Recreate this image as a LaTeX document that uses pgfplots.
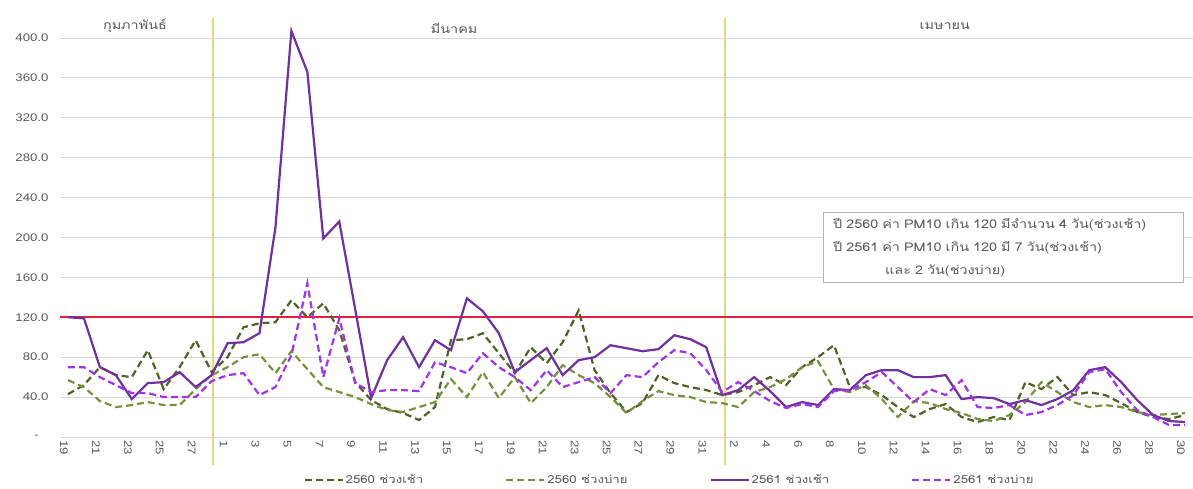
\documentclass[border=0pt]{standalone}
\usepackage{fontspec}
\setmainfont[FakeStretch=1.2]{Liberation Sans}
\newfontfamily\thaifont[Script=Thai, FakeStretch=1.2]{Loma}
\usepackage{pgfplots}
\usepackage{pgfplotstable}
\pgfplotsset{compat=1.18}
\definecolor{dkgreen}{RGB}{79,98,40}
\definecolor{ltgreen}{RGB}{118,146,60}
\definecolor{purp}{RGB}{112,48,160}
\definecolor{viol}{RGB}{160,50,240}
\definecolor{redline}{RGB}{232,30,60}
\definecolor{vline}{RGB}{226,218,115}
\definecolor{gridc}{RGB}{217,217,217}
\definecolor{txt}{RGB}{89,89,89}

\pgfplotstableread{
i A B C D
0 120 70 43 57
1 119 70 52 50
2 70 60 70 36
3 62 52 62 30
4 38 44 60 32
5 54 44 87 35
6 55 40 48 32
7 65 40 70 32
8 50 40 97 48
9 62 56 65 62
10 94 62 80 70
11 95 64 110 80
12 104 42 114 83
13 210 50 115 64
14 407 82 137 86
15 366 154 120 68
16 199 60 134 50
17 216 119 107 45
18 128 54 55 40
19 39 45 37 33
20 77 47 28 27
21 100 47 24 25
22 70 46 17 30
23 97 75 30 35
24 87 70 97 58
25 139 64 98 40
26 126 84 104 65
27 104 70 84 39
28 65 60 64 60
29 77 47 90 34
30 89 67 74 50
31 62 50 95 72
32 77 55 127 62
33 80 60 67 54
34 92 44 44 40
35 89 62 25 24
36 86 60 34 36
37 88 75 62 46
38 102 87 54 42
39 98 84 50 40
40 90 67 47 35
41 42 45 42 34
42 47 55 45 30
43 60 46 52 45
44 46 36 60 50
45 30 29 52 58
46 35 33 70 70
47 32 30 80 76
48 48 46 92 48
49 47 47 50 45
50 62 55 50 52
51 67 65 42 38
52 67 50 30 20
53 60 35 20 36
54 60 48 28 34
55 62 42 33 28
56 38 57 20 24
57 40 30 15 18
58 39 29 20 16
59 33 32 17 22
60 37 22 55 35
61 32 25 48 55
62 38 32 60 45
63 47 42 42 35
64 67 65 45 30
65 70 68 42 32
66 55 45 34 30
67 37 27 25 25
68 22 20 20 22
69 16 12 18 23
70 15 12 22 24
}\data

\begin{document}
\begin{tikzpicture}[x=1pt,y=1pt]
\useasboundingbox (-60,-52) rectangle (1133,437);
\begin{axis}[
  at={(0,0)}, anchor=south west,
  scale only axis, width=1133pt, height=419pt,
  xmin=-0.5, xmax=70.5, ymin=0, ymax=420,
  clip=false,
  axis x line*=bottom, axis y line*=left,
  x axis line style={gridc, line width=0.8pt, -},
  y axis line style={draw=none},
  major tick length=0pt,
  ymajorgrids, grid style={gridc, line width=0.8pt},
  ytick={0,40,80,120,160,200,240,280,320,360,400},
  yticklabels={-\hspace*{10pt},40.0,80.0,120.0,160.0,200.0,240.0,280.0,320.0,360.0,400.0},
  yticklabel style={font=\fontsize{11}{12}\selectfont, text=txt, xshift=-8pt},
  xtick={0,2,...,70},
  xticklabels={19,21,23,25,27,1,3,5,7,9,11,13,15,17,19,21,23,25,27,29,31,2,4,6,8,10,12,14,16,18,20,22,24,26,28,30},
  xticklabel style={rotate=-90, anchor=west, font=\fontsize{11}{12}\selectfont, text=txt, yshift=-4pt},
  legend columns=4,
  legend cell align=left,
  legend style={at={(axis description cs:0.538,-0.103)}, anchor=center, draw=none,
    font=\thaifont\fontsize{11}{13}\selectfont, text=txt,
    /tikz/every even column/.append style={column sep=80pt}},
  legend image code/.code={\draw[#1] (0pt,0pt) -- (38pt,0pt);},
]
\addplot[vline, line width=1.6pt, forget plot] coordinates {(9.1,-28) (9.1,420)};
\addplot[vline, line width=1.6pt, forget plot] coordinates {(41.17,-28) (41.17,420)};
\addplot[redline, line width=2pt, forget plot] coordinates {(-0.5,120) (70.5,120)};

\addplot[dkgreen, line width=2.2pt, dash pattern=on 7pt off 4pt] table[x=i,y=C] {\data};
\addlegendentry{2560 ช่วงเช้า}
\addplot[ltgreen, line width=2.2pt, dash pattern=on 7pt off 4pt] table[x=i,y=D] {\data};
\addlegendentry{2560 ช่วงบ่าย}
\addplot[purp, line width=2.2pt] table[x=i,y=A] {\data};
\addlegendentry{2561 ช่วงเช้า}
\addplot[viol, line width=2.2pt, dash pattern=on 7pt off 4pt] table[x=i,y=B] {\data};
\addlegendentry{2561 ช่วงบ่าย}

\node[font=\thaifont\fontsize{12}{12}\selectfont, text=txt] at (axis cs:4.2,412) {กุมภาพันธ์};
\node[font=\thaifont\fontsize{12}{12}\selectfont, text=txt] at (axis cs:24.2,410) {มีนาคม};
\node[font=\thaifont\fontsize{12}{12}\selectfont, text=txt] at (axis cs:54.95,412) {เมษายน};

\node[draw=black!30, line width=0.8pt, fill=white, anchor=north west, text width=340pt,
  inner xsep=10pt, inner ysep=6pt, align=left,
  font=\thaifont\fontsize{12}{23}\selectfont, text=txt] at (axis cs:47.3,226)
  {ปี 2560 ค่า PM10 เกิน 120 มีจำนวน 4 วัน(ช่วงเช้า)\\ปี 2561 ค่า PM10 เกิน 120 มี 7 วัน(ช่วงเช้า)\\\hspace*{52pt}และ 2 วัน(ช่วงบ่าย)};
\end{axis}
\end{tikzpicture}
\end{document}
